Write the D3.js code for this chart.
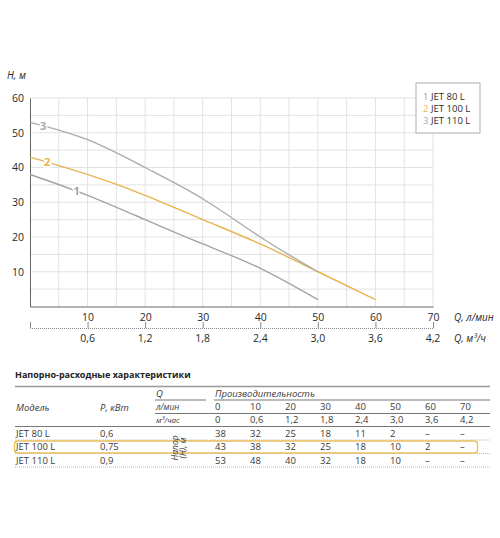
<!DOCTYPE html>
<html lang="ru">
<head>
<meta charset="UTF-8"/>
<title>JET pump curves</title>
<script src="https://d3js.org/d3.v7.min.js"></script>
<style>
  body { margin: 0; background: #fff; }
  svg { font-family: "Open Sans", "Noto Sans", sans-serif; }
</style>
</head>
<body>
<script>
    // Chart data
    var flowLpm   = [0, 10, 20, 30, 40, 50, 60, 70];
    var flowM3h   = ["0", "0,6", "1,2", "1,8", "2,4", "3,0", "3,6", "4,2"];
    var headTicks = [10, 20, 30, 40, 50, 60];

    var headJet80  = [38, 32, 25, 18, 11, 2];
    var headJet100 = [43, 38, 32, 25, 18, 10, 2];
    var headJet110 = [53, 48, 40, 31, 20, 10];

    var models   = ["JET 80 L", "JET 100 L", "JET 110 L"];
    var powers   = ["0,6", "0,75", "0,9"];
    var tableJet80  = ["38", "32", "25", "18", "11", "2", "–", "–"];
    var tableJet100 = ["43", "38", "32", "25", "18", "10", "2", "–"];
    var tableJet110 = ["53", "48", "40", "32", "18", "10", "–", "–"];

    var w = 500, h = 538;
    var grey1 = "#a3a3a3", grey3 = "#ababab", orange = "#e7b450";
    var ink = "#2a2a2a";

    var svg = d3.select("body").append("svg")
                .attr("width", w).attr("height", h);

    var xScale = d3.scaleLinear().domain([0, 70]).range([30, 433]);
    var yScale = d3.scaleLinear().domain([0, 60]).range([306.5, 98]);

    // grid every 5 units
    var grid = svg.append("g").attr("stroke", "#e2e2e2").attr("stroke-width", 1);
    grid.selectAll("line.gx")
        .data(d3.range(5, 71, 5))
        .enter().append("line")
        .attr("x1", function(d) { return xScale(d); })
        .attr("x2", function(d) { return xScale(d); })
        .attr("y1", yScale(0)).attr("y2", yScale(60));
    grid.selectAll("line.gy")
        .data(d3.range(5, 61, 5))
        .enter().append("line")
        .attr("x1", xScale(0)).attr("x2", xScale(70))
        .attr("y1", function(d) { return yScale(d); })
        .attr("y2", function(d) { return yScale(d); });

    // y axis
    var yAxis = d3.axisLeft(yScale).tickValues(headTicks).tickSize(0).tickPadding(6);
    var gy = svg.append("g")
        .attr("transform", "translate(" + xScale(0) + ",0)")
        .call(yAxis);
    gy.select(".domain").attr("stroke", "#666");
    gy.selectAll("text").attr("font-size", "10.5px").attr("fill", ink)
      .attr("font-family", "Open Sans");

    // x axis (л/мин)
    var xAxis = d3.axisBottom(xScale).tickValues(flowLpm.slice(1)).tickSize(0).tickPadding(7);
    var gx = svg.append("g")
        .attr("transform", "translate(0," + yScale(0) + ")")
        .call(xAxis);
    gx.select(".domain").attr("stroke", "#666");
    gx.selectAll("text").attr("font-size", "10.5px").attr("fill", ink)
      .attr("font-family", "Open Sans");

    // second axis (м³/ч)
    var x2Axis = d3.axisTop(xScale).tickValues(flowLpm).tickSize(6)
                   .tickFormat(function() { return ""; });
    var g2 = svg.append("g")
        .attr("transform", "translate(0,328)")
        .call(x2Axis);
    g2.select(".domain").attr("stroke", "#888").attr("stroke-dasharray", "1,1");
    g2.selectAll(".tick line").attr("stroke", "#888");
    svg.selectAll("text.m3")
        .data(flowLpm.slice(1))
        .enter().append("text")
        .attr("class", "m3")
        .attr("x", function(d) { return xScale(d); })
        .attr("y", 342)
        .attr("text-anchor", "middle")
        .attr("font-size", "10.5px").attr("fill", ink)
        .text(function(d, i) { return flowM3h[i + 1]; });

    // axis titles
    svg.append("text").attr("x", 7).attr("y", 79)
       .attr("font-size", "10px").attr("font-style", "italic").attr("fill", ink)
       .text("H, м");
    svg.append("text").attr("x", 454).attr("y", 321)
       .attr("font-size", "10px").attr("font-style", "italic").attr("fill", ink)
       .text("Q, л/мин");
    svg.append("text").attr("x", 454).attr("y", 342)
       .attr("font-size", "10px").attr("font-style", "italic").attr("fill", ink)
       .text("Q, м³/ч");

    // curves
    var line = d3.line()
        .x(function(d, i) { return xScale(flowLpm[i]); })
        .y(function(d) { return yScale(d); })
        .curve(d3.curveNatural);

    var curves = [
        { values: headJet80,  color: grey1,  label: "1", lq: 8.1, lh: 33.3 },
        { values: headJet100, color: orange, label: "2", lq: 3.0, lh: 41.6 },
        { values: headJet110, color: grey3,  label: "3", lq: 2.3, lh: 51.8 }
    ];

    svg.selectAll("path.curve")
        .data(curves)
        .enter().append("path")
        .attr("class", "curve")
        .attr("fill", "none")
        .attr("stroke", function(d) { return d.color; })
        .attr("stroke-width", 1.4)
        .attr("d", function(d) { return line(d.values); });

    svg.selectAll("text.clabel")
        .data(curves)
        .enter().append("text")
        .attr("class", "clabel")
        .attr("x", function(d) { return xScale(d.lq); })
        .attr("y", function(d) { return yScale(d.lh) + 4; })
        .attr("text-anchor", "middle")
        .attr("font-size", "11px").attr("font-weight", "bold")
        .attr("fill", function(d) { return d.color; })
        .attr("stroke", "#fff").attr("stroke-width", 3)
        .attr("paint-order", "stroke")
        .text(function(d) { return d.label; });

    // legend
    svg.append("rect").attr("x", 416).attr("y", 83).attr("width", 64).attr("height", 50)
       .attr("fill", "#fff").attr("stroke", "#999").attr("stroke-width", 0.8);
    var legend = svg.selectAll("g.leg")
        .data(curves)
        .enter().append("g")
        .attr("class", "leg")
        .attr("transform", function(d, i) { return "translate(423," + (100 + i * 12) + ")"; });
    legend.append("text")
        .attr("font-size", "9.5px")
        .attr("fill", function(d) { return d.color; })
        .text(function(d) { return d.label; });
    legend.append("text")
        .attr("x", 8)
        .attr("font-size", "9.5px").attr("fill", ink)
        .text(function(d, i) { return models[i]; });

    // ---------- table ----------
    var colX = d3.scaleLinear().domain([0, 7]).range([215, 460]);
    var t = svg.append("g").attr("font-size", "9.5px").attr("fill", "#3a3a3a");

    t.append("text").attr("x", 15).attr("y", 378)
     .attr("font-size", "9px").attr("font-weight", "bold").attr("fill", "#222")
     .text("Напорно-расходные характеристики");

    function hline(y, x1, x2, color, width, dash) {
        t.append("line").attr("x1", x1).attr("x2", x2).attr("y1", y).attr("y2", y)
         .attr("stroke", color).attr("stroke-width", width)
         .attr("stroke-dasharray", dash || null);
    }
    hline(386.5, 15, 490, "#999", 1.5);
    hline(400, 155, 206, "#777", 1);
    hline(400, 214, 490, "#777", 1);
    hline(413.5, 155, 490, "#777", 1);
    hline(426.5, 15, 490, "#777", 1);
    hline(440, 15, 490, "#bbb", 1, "1,1");
    hline(453.5, 15, 490, "#bbb", 1, "1,1");
    hline(467, 15, 490, "#bbb", 1, "1,1");

    // highlight JET 100 L row
    t.append("rect").attr("x", 14.5).attr("y", 441).attr("width", 463).attr("height", 12)
     .attr("rx", 3).attr("fill", "none").attr("stroke", "#ebbd5c").attr("stroke-width", 1.3);

    t.append("text").attr("x", 16).attr("y", 411).attr("font-style", "italic").text("Модель");
    t.append("text").attr("x", 100).attr("y", 411).attr("font-style", "italic").text("P, кВт");
    t.append("text").attr("x", 156).attr("y", 397).attr("font-style", "italic").text("Q");
    t.append("text").attr("x", 215).attr("y", 397).attr("font-style", "italic").text("Производительность");
    t.append("text").attr("x", 156).attr("y", 410).attr("font-style", "italic")
     .attr("font-size", "8.5px").text("л/мин");
    t.append("text").attr("x", 156).attr("y", 423).attr("font-style", "italic")
     .attr("font-size", "8px").text("м³/час");

    t.selectAll("text.lpm")
     .data(flowLpm).enter().append("text")
     .attr("class", "lpm")
     .attr("x", function(d, i) { return colX(i); }).attr("y", 410)
     .text(function(d) { return d; });
    t.selectAll("text.m3h")
     .data(flowM3h).enter().append("text")
     .attr("class", "m3h")
     .attr("x", function(d, i) { return colX(i); }).attr("y", 423)
     .text(function(d) { return d; });

    var rows = [tableJet80, tableJet100, tableJet110];
    var rowY = [436.5, 450, 464];
    rows.forEach(function(r, k) {
        t.append("text").attr("x", 16).attr("y", rowY[k]).text(models[k]);
        t.append("text").attr("x", 100).attr("y", rowY[k]).text(powers[k]);
        t.selectAll("text.row" + k)
         .data(r).enter().append("text")
         .attr("class", "row" + k)
         .attr("x", function(d, i) { return colX(i); }).attr("y", rowY[k])
         .text(function(d) { return d; });
    });

    // rotated head label
    t.append("text").attr("transform", "translate(178,448) rotate(-90)")
     .attr("text-anchor", "middle").attr("font-style", "italic").attr("font-size", "8.5px")
     .text("Напор");
    t.append("text").attr("transform", "translate(186,448) rotate(-90)")
     .attr("text-anchor", "middle").attr("font-style", "italic").attr("font-size", "8.5px")
     .text("(Н), м");
</script>
</body>
</html>
